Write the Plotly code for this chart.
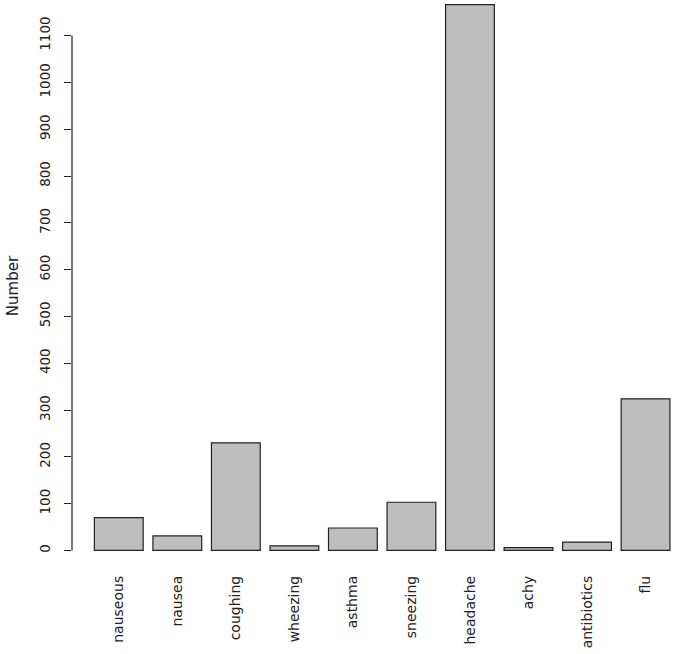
import plotly.graph_objects as go

categories = ["nauseous", "nausea", "coughing", "wheezing", "asthma",
              "sneezing", "headache", "achy", "antibiotics", "flu"]
counts = [70, 31, 230, 10, 48, 103, 1166, 6, 18, 324]
y_ticks = [0, 100, 200, 300, 400, 500, 600, 700, 800, 900, 1000, 1100]
y_label = "Number"

FONT = "DejaVu Sans"

fig = go.Figure()
fig.add_trace(go.Bar(
    x=categories,
    y=counts,
    marker=dict(color="#BEBEBE", line=dict(color="#222222", width=1.2)),
    showlegend=False,
    cliponaxis=False,
))

# R-style y axis line spanning only the tick range
fig.add_shape(type="line", xref="paper", yref="y",
              x0=0, x1=0, y0=y_ticks[0], y1=y_ticks[-1],
              line=dict(color="#222222", width=1.2))

fig.update_layout(
    width=675, height=654,
    margin=dict(l=72, r=0, t=0, b=82),
    paper_bgcolor="white", plot_bgcolor="white",
    bargap=0.1667,
    font=dict(family=FONT, size=13, color="#222222"),
    xaxis=dict(
        range=[-0.799, 9.503],
        automargin=False,
        showline=False, showgrid=False, zeroline=False,
        ticks="", tickangle=-90,
        ticklabelstandoff=0,
        tickfont=dict(family=FONT, size=14, color="#222222"),
    ),
    yaxis=dict(
        range=[-46, 1176],
        automargin=False,
        showline=False, showgrid=False, zeroline=False,
        tickvals=y_ticks, ticktext=[str(v) for v in y_ticks],
        ticks="outside", ticklen=7, tickwidth=1.2, tickcolor="#222222",
        tickangle=-90,
        ticklabelstandoff=9,
        tickfont=dict(family=FONT, size=13.5, color="#222222"),
        title=dict(text=y_label, standoff=14,
                   font=dict(family=FONT, size=15, color="#222222")),
    ),
)

fig.write_html(
    "out.html",
    config={"displayModeBar": False},
    post_script="document.body.style.margin='0';document.body.style.overflow='hidden';",
)
